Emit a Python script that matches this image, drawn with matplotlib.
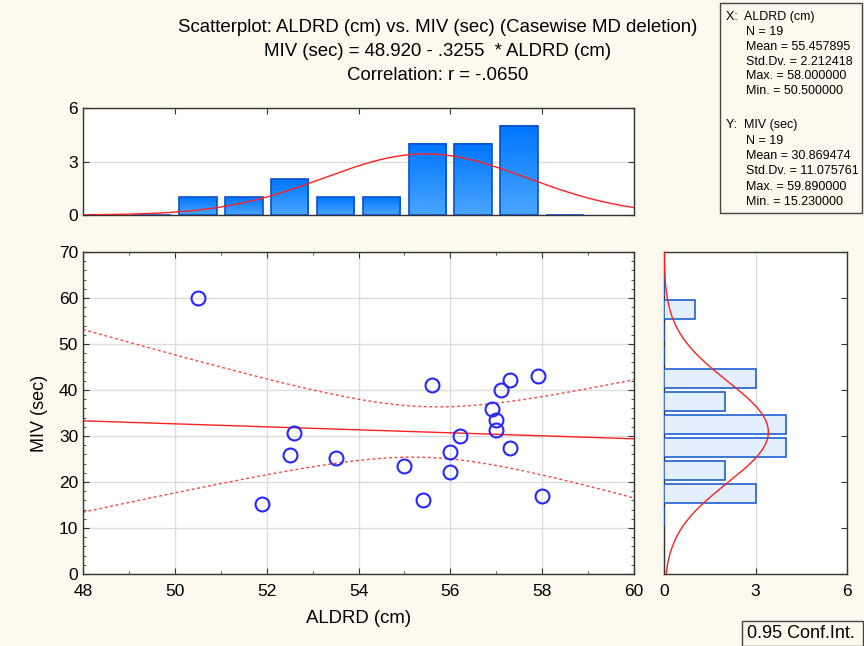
import numpy as np
import matplotlib.pyplot as plt
from matplotlib.patches import Rectangle
from matplotlib.ticker import MultipleLocator
from matplotlib.colors import LinearSegmentedColormap

plt.rcParams['font.family'] = ['Liberation Sans', 'DejaVu Sans']

# data
aldrd = [50.5, 52.6, 52.5, 53.5, 51.9, 55.6, 55.4, 55.0, 56.0, 56.0,
         56.2, 56.9, 57.0, 57.0, 57.1, 57.3, 57.3, 57.9, 58.0]
miv = [59.9, 30.6, 25.9, 25.3, 15.2, 41.1, 16.0, 23.5, 26.5, 22.1,
       30.1, 35.8, 33.5, 31.2, 39.9, 42.1, 27.5, 43.0, 17.0]

x_bins = [49.5, 50.5, 51.5, 52.5, 53.5, 54.5, 55.5, 56.5, 57.5, 58.5]
x_counts = [0, 1, 1, 2, 1, 1, 4, 4, 5, 0]
y_bins = [12.5, 17.5, 22.5, 27.5, 32.5, 37.5, 42.5, 47.5, 52.5, 57.5, 62.5]
y_counts = [0, 3, 2, 4, 4, 2, 3, 0, 0, 1, 0]

intercept, slope = 48.920, -0.3255
x_mean, x_sd = 55.457895, 2.212418
y_mean, y_sd = 30.869474, 11.075761

title_lines = ["Scatterplot: ALDRD (cm) vs. MIV (sec) (Casewise MD deletion)",
               "MIV (sec) = 48.920 - .3255  * ALDRD (cm)",
               "Correlation: r = -.0650"]
stats_x = ["N = 19", "Mean = 55.457895", "Std.Dv. = 2.212418",
           "Max. = 58.000000", "Min. = 50.500000"]
stats_y = ["N = 19", "Mean = 30.869474", "Std.Dv. = 11.075761",
           "Max. = 59.890000", "Min. = 15.230000"]

bg = '#fef9ee'
W, H = 864, 646
fig = plt.figure(figsize=(8.64, 6.46), dpi=100, facecolor=bg)


def px_axes(l, t, r, b):
    return fig.add_axes([l / W, 1 - b / H, (r - l) / W, (b - t) / H])


def style(ax):
    for s in ax.spines.values():
        s.set_color('#333333')
        s.set_linewidth(1.0)
    ax.tick_params(which='both', direction='in', color='#333333',
                   labelsize=12.5, top=True, right=True)
    ax.tick_params(which='major', length=4)
    ax.tick_params(which='minor', length=2)


# scatter
ax = px_axes(83, 252, 634, 574)
style(ax)
ax.set_xlim(48, 60)
ax.set_ylim(0, 70)
ax.xaxis.set_major_locator(MultipleLocator(2))
ax.xaxis.set_minor_locator(MultipleLocator(1))
ax.yaxis.set_major_locator(MultipleLocator(10))
ax.yaxis.set_minor_locator(MultipleLocator(2))
ax.grid(True, which='major', color='#dddddd', lw=1)
ax.set_axisbelow(True)
ax.tick_params(axis='x', pad=7)

xx = np.linspace(48, 60, 200)
ax.plot(xx, intercept + slope * xx, color='#ff2020', lw=1)

xa = np.array(aldrd)
ya = np.array(miv)
n = len(xa)
resid = ya - (intercept + slope * xa)
s = np.sqrt(np.sum(resid ** 2) / (n - 2))
sxx = np.sum((xa - xa.mean()) ** 2)
t = 2.1098
se = s * np.sqrt(1 / n + (xx - xa.mean()) ** 2 / sxx)
ax.plot(xx, intercept + slope * xx + t * se, color='#ff4040', lw=1, ls=(0, (2, 2)))
ax.plot(xx, intercept + slope * xx - t * se, color='#ff4040', lw=1, ls=(0, (2, 2)))

ax.plot(aldrd, miv, 'o', mfc='none', mec='#2626ff', ms=10, mew=1.5)
ax.set_xlabel("ALDRD (cm)", fontsize=13.4, labelpad=8)
ax.set_ylabel("MIV (sec)", fontsize=13, labelpad=8)

# top histogram
cmap = LinearSegmentedColormap.from_list('bars', ['#4aa6ff', '#0076ff'])
grad = np.linspace(0, 1, 64).reshape(-1, 1)
axt = px_axes(83, 108, 634, 215)
style(axt)
axt.set_xlim(48, 60)
axt.set_ylim(0, 6)
axt.set_yticks([0, 3, 6])
axt.xaxis.set_major_locator(MultipleLocator(2))
axt.tick_params(axis='x', labelbottom=False, bottom=False)
axt.tick_params(axis='y', right=True)
axt.grid(True, axis='y', color='#dddddd', lw=1)
axt.set_axisbelow(True)
bw = 0.82
for c, h in zip(x_bins, x_counts):
    if h > 0:
        axt.imshow(grad, cmap=cmap, origin='lower', aspect='auto',
                   extent=(c - bw / 2, c + bw / 2, 0, h), zorder=2)
    axt.bar(c, h, width=bw, facecolor='none', edgecolor='#0a4fd0', lw=1.2, zorder=3)
axt.set_xlim(48, 60)
axt.set_ylim(0, 6)
gx = np.linspace(48, 60, 300)
axt.plot(gx, n * 1.0 * np.exp(-0.5 * ((gx - x_mean) / x_sd) ** 2) / (x_sd * np.sqrt(2 * np.pi)),
         color='#ff2020', lw=1, zorder=4)

# right histogram
axr = px_axes(664, 252, 847, 574)
style(axr)
axr.set_ylim(0, 70)
axr.set_xlim(0, 6)
axr.set_xticks([0, 3, 6])
axr.yaxis.set_major_locator(MultipleLocator(10))
axr.tick_params(axis='y', labelleft=False, left=False)
axr.tick_params(axis='x', top=False, pad=7)
axr.grid(True, axis='x', color='#dddddd', lw=1)
axr.set_axisbelow(True)
bh = 5 * 0.82
axr.barh(y_bins, y_counts, height=bh, color='#e3effd', edgecolor='#1f5fd0', lw=1.2, zorder=3)
gy = np.linspace(0, 70, 300)
axr.plot(n * 5.0 * np.exp(-0.5 * ((gy - y_mean) / y_sd) ** 2) / (y_sd * np.sqrt(2 * np.pi)), gy,
         color='#ff2020', lw=1, zorder=4)

# title
for i, line in enumerate(title_lines):
    fig.text(438 / W, 1 - (27 + 24.5 * i) / H, line, ha='center', va='center', fontsize=13.4)

# stats box
fig.patches.append(Rectangle((720 / W, 1 - 213 / H), 142 / W, 210 / H, transform=fig.transFigure,
                             facecolor=bg, edgecolor='#444444', lw=1))
fs = 9
fig.text(726 / W, 1 - 17 / H, "X:  ALDRD (cm)", fontsize=fs, va='center')
for i, s_ in enumerate(stats_x):
    fig.text(746 / W, 1 - (32 + 14.8 * i) / H, s_, fontsize=fs, va='center')
fig.text(726 / W, 1 - 125 / H, "Y:  MIV (sec)", fontsize=fs, va='center')
for i, s_ in enumerate(stats_y):
    fig.text(746 / W, 1 - (141 + 15.2 * i) / H, s_, fontsize=fs, va='center')

# conf int box
fig.patches.append(Rectangle((742 / W, 1 - 646 / H), 121 / W, 25 / H, transform=fig.transFigure,
                             facecolor=bg, edgecolor='#444444', lw=1))
fig.text(747 / W, 1 - 633 / H, "0.95 Conf.Int.", fontsize=13, va='center')

fig.savefig('out.png', dpi=100, facecolor=bg)
